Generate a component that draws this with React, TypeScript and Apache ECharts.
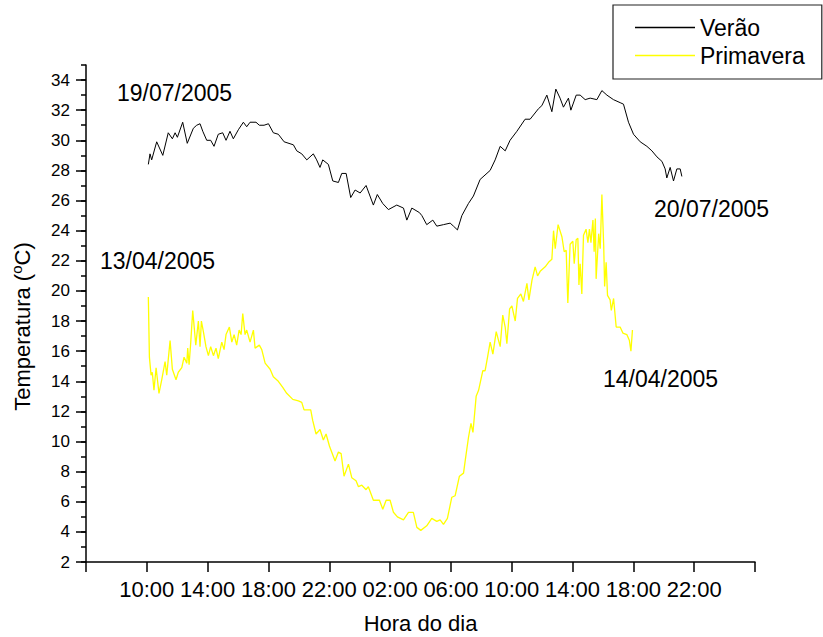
import React, { useEffect, useRef } from "react";
import * as echarts from "echarts";

// Summer logger run (19/07/2005 10:00 -> 20/07/2005 ~21:00), hours counted from midnight of day 1
const veraoHours = [
  10.1, 10.21, 10.32, 10.65, 11.05, 11.41, 11.68, 11.86, 12.01, 12.36, 12.66, 13.06, 13.28, 13.5,
  13.68, 13.94, 14.2, 14.42, 14.7, 14.99, 15.21, 15.47, 15.69, 16.02, 16.35, 16.57, 16.79, 17.18,
  17.4, 17.71, 18.0, 18.32, 18.65, 19.03, 19.64, 19.86, 20.19, 20.52, 20.95, 21.17, 21.39, 21.57,
  21.94, 22.23, 22.6, 22.82, 23.11, 23.41, 23.7, 24.03, 24.42, 24.9, 25.16, 25.52, 25.89, 26.44,
  26.88, 27.1, 27.43, 27.93, 28.09, 28.41, 28.81, 29.07, 29.51, 29.95, 30.17, 30.43, 30.72, 31.15,
  31.48, 31.92, 32.58, 32.91, 33.24, 33.57, 33.89, 34.34, 34.88, 35.21, 35.76, 35.98, 36.31, 36.64,
  36.9, 37.18, 37.4, 37.73, 37.89, 38.24, 38.5, 38.83, 39.16, 39.6, 39.93, 40.26, 40.69, 41.13,
  41.35, 41.68, 42.01, 42.45, 42.89, 43.22, 43.55, 43.88, 44.09, 44.2, 44.42, 44.64, 44.86, 45.08,
  45.19,
];
const veraoTemps = [
  28.4, 29.1, 28.7, 29.9, 29.0, 30.5, 30.1, 30.5, 30.2, 31.2, 29.8, 30.8, 31.0, 31.1,
  30.6, 30.0, 30.0, 29.6, 30.4, 30.5, 30.0, 30.6, 30.1, 30.7, 31.2, 30.9, 31.2, 31.2,
  31.0, 31.0, 31.1, 30.5, 30.4, 29.9, 29.7, 29.3, 29.1, 28.7, 29.1, 28.7, 28.2, 28.7,
  28.4, 27.3, 27.2, 27.8, 27.8, 26.2, 26.7, 26.5, 27.0, 25.7, 26.4, 25.8, 25.4, 25.7,
  25.5, 24.7, 25.5, 25.2, 25.0, 24.4, 24.7, 24.3, 24.4, 24.5, 24.3, 24.05, 25.0, 25.8,
  26.3, 27.4, 28.0, 28.7, 29.6, 29.3, 30.0, 30.6, 31.4, 31.4, 32.1, 32.3, 33.0, 31.9,
  33.4, 32.8, 32.2, 32.8, 32.0, 33.0, 33.0, 32.7, 32.8, 32.7, 33.3, 33.0, 32.7, 32.5,
  32.4, 31.2, 30.4, 29.9, 29.6, 29.3, 28.9, 28.6, 28.1, 27.5, 28.2, 27.3, 28.1, 28.1,
  27.6,
];

// Spring logger run (13/04/2005 10:00 -> 14/04/2005 18:00)
const primaveraHours = [
  10.1, 10.17, 10.28, 10.36, 10.47, 10.61, 10.8, 10.98, 11.2, 11.31, 11.53, 11.68, 11.92, 12.07,
  12.3, 12.45, 12.63, 12.69, 12.78, 12.89, 13.02, 13.22, 13.39, 13.5, 13.59, 13.72, 13.89, 14.05,
  14.2, 14.38, 14.55, 14.7, 14.93, 15.08, 15.21, 15.43, 15.59, 15.74, 15.91, 16.07, 16.2, 16.31,
  16.46, 16.57, 16.79, 17.01, 17.12, 17.4, 17.56, 17.78, 18.11, 18.32, 18.65, 18.94, 19.2, 19.6,
  19.97, 20.19, 20.34, 20.78, 20.91, 21.13, 21.39, 21.61, 21.79, 22.01, 22.38, 22.6, 22.78, 22.97,
  23.26, 23.48, 23.76, 23.92, 24.14, 24.42, 24.57, 24.9, 25.3, 25.52, 25.74, 26.0, 26.22, 26.48,
  26.88, 27.21, 27.53, 27.76, 28.02, 28.41, 28.74, 29.07, 29.29, 29.51, 29.77, 30.06, 30.28, 30.56,
  30.83, 30.95, 31.16, 31.32, 31.45, 31.66, 31.82, 32.1, 32.25, 32.41, 32.58, 32.76, 32.98, 33.24,
  33.41, 33.57, 33.68, 33.86, 34.01, 34.23, 34.38, 34.6, 34.77, 35.0, 35.13, 35.33, 35.54, 35.7,
  35.87, 36.2, 36.42, 36.64, 36.75, 36.86, 37.05, 37.3, 37.45, 37.58, 37.69, 37.84, 38.02, 38.11,
  38.24, 38.35, 38.42, 38.5, 38.61, 38.72, 38.89, 39.01, 39.11, 39.21, 39.34, 39.42, 39.5, 39.55,
  39.72, 39.82, 39.93, 40.05, 40.11, 40.21, 40.3, 40.47, 40.55, 40.7, 40.87, 41.13, 41.31, 41.57,
  41.74, 41.84, 41.94,
];
const primaveraTemps = [
  19.6, 15.6, 14.4, 14.6, 13.4, 14.9, 13.2, 14.1, 15.3, 14.4, 16.7, 14.8, 14.1, 14.6,
  14.9, 15.6, 15.2, 16.2, 15.1, 16.6, 18.7, 16.4, 18.0, 16.3, 18.0, 17.3, 16.3, 15.7,
  16.3, 15.7, 16.2, 15.5, 16.6, 16.1, 17.1, 17.6, 16.6, 17.1, 16.4, 17.4, 17.1, 18.5,
  17.1, 17.4, 16.6, 17.4, 16.2, 16.4, 16.1, 15.2, 14.8, 14.3, 14.0, 13.6, 13.2, 12.8,
  12.7, 12.6, 12.1, 12.1, 11.4, 10.5, 10.8, 10.1, 10.5, 9.7, 8.7, 9.3, 9.2, 7.7,
  8.5, 7.6, 7.4, 7.0, 7.1, 6.8, 7.0, 6.1, 6.1, 5.5, 6.1, 6.1, 5.3, 5.0,
  4.8, 5.3, 5.3, 4.3, 4.1, 4.4, 4.9, 4.7, 4.8, 4.5, 4.9, 6.3, 6.4, 7.7,
  7.9, 8.8, 10.3, 11.2, 10.6, 13.0, 13.4, 14.7, 14.7, 15.6, 16.6, 15.8, 17.3, 16.3,
  18.4, 17.6, 16.5, 18.8, 19.0, 18.0, 19.5, 19.8, 19.3, 20.5, 19.4, 20.7, 21.6, 21.0,
  21.3, 21.6, 21.9, 22.1, 24.0, 22.8, 24.4, 23.6, 22.6, 22.7, 19.2, 23.1, 23.3, 21.8,
  23.4, 23.5, 20.4, 21.8, 19.8, 23.7, 24.1, 23.2, 24.1, 23.2, 24.7, 22.6, 24.8, 20.8,
  23.8, 22.8, 26.4, 23.0, 20.3, 21.9, 19.7, 19.4, 18.7, 19.5, 17.6, 17.6, 17.2, 17.1,
  16.7, 16.0, 17.4,
];

// Time axis: 06:00 on day 1 to 02:00 on day 3, one tick every 4 hours
const xTickLabels = [
  "", "10:00", "14:00", "18:00", "22:00", "02:00", "06:00", "10:00", "14:00", "18:00", "22:00", "",
];
const yMajorTicks = [2, 4, 6, 8, 10, 12, 14, 16, 18, 20, 22, 24, 26, 28, 30, 32, 34];

const FONT = "'Liberation Sans', Arial, Helvetica, sans-serif";

export default function App() {
  const ref = useRef<HTMLDivElement>(null);

  useEffect(() => {
    if (!ref.current) return;
    const chart = echarts.init(ref.current, undefined, { renderer: "svg" });

    const pair = (xs: number[], ys: number[]) => xs.map((x, i) => [x, ys[i]]);

    const annotation = (text: string, x: number, y: number) => ({
      type: "text",
      x,
      y,
      style: {
        text,
        fill: "#000",
        font: `23px ${FONT}`,
        verticalAlign: "middle",
        align: "left",
      },
    });

    chart.setOption({
      animation: false,
      backgroundColor: "#fff",
      textStyle: { fontFamily: FONT },
      grid: { left: 86, right: 68, top: 65, bottom: 75, containLabel: false, outerBoundsMode: "none" },
      legend: {
        orient: "vertical",
        left: 613,
        top: 5,
        padding: [11, 17, 12, 22],
        itemWidth: 60,
        itemHeight: 1.6,
        itemGap: 5,
        icon: "rect",
        backgroundColor: "#fff",
        borderColor: "#222",
        borderWidth: 1.2,
        textStyle: { fontSize: 23, color: "#000", fontFamily: FONT },
        data: ["Verão", "Primavera"],
      },
      xAxis: {
        type: "value",
        min: 6,
        max: 50,
        interval: 4,
        name: "Hora do dia",
        nameLocation: "middle",
        nameGap: 50,
        nameTextStyle: { fontSize: 22, color: "#000", fontFamily: FONT },
        axisLine: { show: true, onZero: false, lineStyle: { color: "#000", width: 1.5 } },
        axisTick: { show: true, inside: false, length: 10, lineStyle: { color: "#000", width: 1.5 } },
        axisLabel: {
          margin: 16,
          fontSize: 22,
          color: "#000",
          fontFamily: FONT,
          showMinLabel: true,
          showMaxLabel: true,
          formatter: (v: number) => xTickLabels[Math.round((v - 6) / 4)] ?? "",
        },
        splitLine: { show: false },
      },
      yAxis: [
        {
          type: "value",
          min: 2,
          max: 35,
          interval: 2,
          name: "Temperatura ({sup|o}C)",
          nameLocation: "middle",
          nameGap: 50,
          nameRotate: 90,
          nameTextStyle: {
            fontSize: 22,
            color: "#000",
            fontFamily: FONT,
            padding: [0, 26, 0, 0],
            rich: {
              // raised small "o" for the degree mark
              sup: { fontSize: 15, color: "#000", fontFamily: FONT, padding: [0, 0, 12, 0] },
            },
          },
          axisLine: { show: true, onZero: false, lineStyle: { color: "#000", width: 1.5 } },
          axisTick: {
            show: true,
            inside: false,
            length: 10,
            customValues: yMajorTicks,
            lineStyle: { color: "#000", width: 1.5 },
          },
          axisLabel: {
            margin: 16,
            fontSize: 17,
            color: "#000",
            fontFamily: FONT,
            customValues: yMajorTicks,
            formatter: (v: number) => (v % 2 === 0 ? String(v) : ""),
          },
          splitLine: { show: false },
        },
        {
          // short ticks at the odd values
          type: "value",
          position: "left",
          min: 2,
          max: 35,
          interval: 1,
          axisLine: { show: false },
          axisTick: { show: true, inside: false, length: 5, lineStyle: { color: "#000", width: 1.5 } },
          axisLabel: { show: false },
          splitLine: { show: false },
        },
      ],
      graphic: [
        annotation("19/07/2005", 117, 93),
        annotation("13/04/2005", 100, 261),
        annotation("20/07/2005", 654, 209),
        annotation("14/04/2005", 603, 379),
      ],
      series: [
        {
          name: "Verão",
          type: "line",
          symbol: "none",
          showSymbol: false,
          color: "#000",
          lineStyle: { color: "#000", width: 1 },
          data: pair(veraoHours, veraoTemps),
        },
        {
          name: "Primavera",
          type: "line",
          symbol: "none",
          showSymbol: false,
          color: "#ffff00",
          lineStyle: { color: "#ffff00", width: 1.3 },
          data: pair(primaveraHours, primaveraTemps),
        },
      ],
    });

    return () => chart.dispose();
  }, []);

  return (
    <div
      ref={ref}
      style={{ position: "fixed", left: 0, top: 0, width: 823, height: 637, background: "#fff" }}
    />
  );
}
